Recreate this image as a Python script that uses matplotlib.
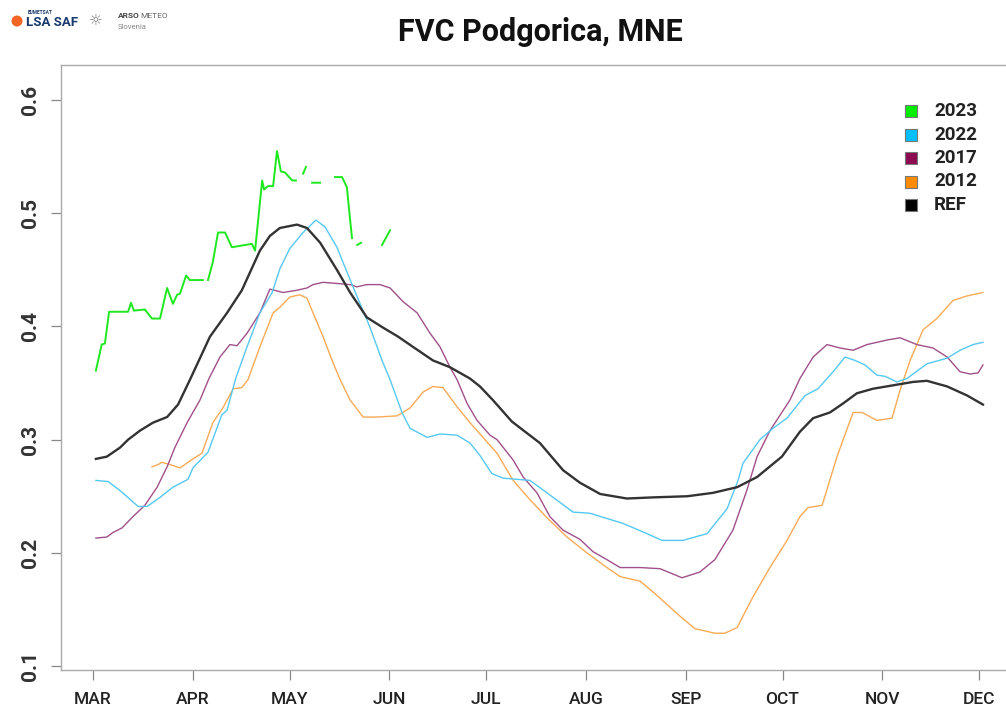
import numpy as np
import matplotlib
matplotlib.use('Agg')
import matplotlib.pyplot as plt
from matplotlib.patches import Ellipse
from matplotlib.transforms import IdentityTransform

nan = np.nan

# ---------------- data ----------------
month_labels = ['MAR', 'APR', 'MAY', 'JUN', 'JUL', 'AUG', 'SEP', 'OCT', 'NOV', 'DEC']
month_days = [60, 91, 121, 152, 182, 213, 244, 274, 305, 335]
y_ticks = [0.1, 0.2, 0.3, 0.4, 0.5, 0.6]
y_tick_labels = ['0.1', '0.2', '0.3', '0.4', '0.5', '0.6']

series_names = ['2023', '2022', '2017', '2012', 'REF']

ref_day = [60.9, 64.3, 68.4, 70.9, 74.6, 78.6, 83.0, 86.4, 90.1, 96.3, 101.6, 106.2,
           111.8, 114.9, 118.0, 123.3, 126.4, 130.5, 135.7, 139.8, 145.0, 150.0, 154.7,
           159.3, 165.5, 170.8, 177.0, 180.1, 184.1, 190.0, 198.7, 205.9, 211.1, 217.4,
           225.7, 233.8, 244.4, 252.4, 259.9, 266.1, 273.8, 279.4, 283.5, 288.7, 292.8,
           297.1, 302.1, 308.3, 314.5, 318.8, 325.1, 331.3, 336.2]
ref_val = [0.283, 0.285, 0.293, 0.300, 0.308, 0.315, 0.320, 0.331, 0.353, 0.391, 0.412, 0.432,
           0.467, 0.480, 0.487, 0.490, 0.487, 0.474, 0.450, 0.430, 0.408, 0.399, 0.391,
           0.382, 0.370, 0.364, 0.354, 0.347, 0.335, 0.316, 0.297, 0.273, 0.262, 0.252,
           0.248, 0.249, 0.250, 0.253, 0.258, 0.267, 0.285, 0.307, 0.319, 0.324, 0.332,
           0.341, 0.345, 0.348, 0.351, 0.352, 0.347, 0.339, 0.331]

y2022_day = [60.9, 64.7, 68.4, 74.0, 76.8, 80.8, 84.8, 89.5, 91.0, 95.7, 100.0, 101.6,
             104.4, 107.8, 111.8, 115.6, 118.0, 121.1, 125.2, 129.2, 132.0, 135.7, 140.7,
             146.0, 149.7, 152.2, 155.9, 158.4, 163.7, 167.7, 173.0, 177.0, 180.1, 183.8,
             187.3, 195.6, 200.9, 209.0, 214.2, 224.5, 231.9, 236.6, 243.1, 250.6, 256.8,
             260.2, 261.7, 267.0, 271.0, 275.4, 281.0, 285.0, 289.7, 293.4, 296.5, 299.6,
             303.3, 305.8, 309.5, 312.6, 318.8, 325.1, 329.1, 333.1, 336.2]
y2022_val = [0.264, 0.263, 0.255, 0.241, 0.241, 0.249, 0.258, 0.265, 0.275, 0.289, 0.322, 0.326,
             0.355, 0.382, 0.412, 0.430, 0.451, 0.469, 0.483, 0.494, 0.488, 0.470, 0.435,
             0.399, 0.370, 0.353, 0.324, 0.310, 0.302, 0.305, 0.304, 0.297, 0.286, 0.270,
             0.266, 0.264, 0.253, 0.236, 0.235, 0.226, 0.217, 0.211, 0.211, 0.217, 0.239,
             0.264, 0.279, 0.300, 0.310, 0.319, 0.339, 0.345, 0.360, 0.373, 0.370, 0.366,
             0.357, 0.356, 0.351, 0.354, 0.367, 0.372, 0.379, 0.384, 0.386]

y2017_day = [60.9, 64.3, 66.2, 69.0, 72.4, 76.1, 79.9, 83.0, 85.4, 89.2, 93.2, 96.0, 99.4,
             102.5, 104.7, 107.8, 111.8, 114.9, 119.0, 123.3, 126.4, 128.3, 131.4, 135.7,
             139.8, 141.9, 145.0, 149.1, 152.2, 156.2, 160.6, 164.6, 167.7, 170.8, 173.0,
             176.1, 179.2, 183.2, 185.4, 190.4, 193.5, 197.8, 201.8, 205.9, 211.1, 215.2,
             219.5, 223.6, 229.8, 236.0, 242.8, 248.3, 253.0, 258.6, 262.9, 266.1, 270.1,
             276.3, 279.4, 283.5, 287.8, 291.8, 295.9, 300.2, 306.4, 310.5, 315.7, 320.7,
             325.1, 329.1, 332.2, 334.7, 336.2]
y2017_val = [0.213, 0.214, 0.218, 0.222, 0.232, 0.242, 0.258, 0.276, 0.293, 0.315, 0.335, 0.354, 0.373,
             0.384, 0.383, 0.394, 0.412, 0.433, 0.430, 0.432, 0.434, 0.437, 0.439, 0.438,
             0.437, 0.435, 0.437, 0.437, 0.434, 0.422, 0.412, 0.394, 0.382, 0.364, 0.353,
             0.332, 0.317, 0.304, 0.300, 0.282, 0.267, 0.253, 0.232, 0.220, 0.212, 0.201,
             0.194, 0.187, 0.187, 0.186, 0.178, 0.183, 0.194, 0.220, 0.255, 0.285, 0.308,
             0.335, 0.354, 0.373, 0.384, 0.381, 0.379, 0.384, 0.388, 0.390, 0.384, 0.381,
             0.373, 0.360, 0.358, 0.359, 0.366]

y2012_day = [78.3, 80.2, 81.4, 83.9, 87.0, 91.0, 93.8, 97.2, 100.3, 103.5, 106.2, 108.1,
             111.8, 115.9, 118.0, 121.1, 124.2, 126.4, 128.3, 131.4, 134.5, 136.7, 139.8,
             143.8, 148.1, 154.4, 158.4, 162.4, 165.5, 168.6, 173.0, 177.0, 180.1, 185.4,
             190.4, 195.6, 200.9, 207.1, 213.3, 219.5, 223.6, 229.8, 234.4, 242.2, 246.8,
             253.0, 256.1, 259.9, 264.8, 270.1, 275.4, 279.4, 281.9, 286.3, 290.9, 295.9,
             298.7, 303.3, 308.0, 310.5, 313.6, 317.6, 321.9, 326.9, 331.3, 336.2]
y2012_val = [0.276, 0.278, 0.280, 0.278, 0.275, 0.283, 0.288, 0.315, 0.328, 0.345, 0.346, 0.353,
             0.382, 0.412, 0.417, 0.426, 0.428, 0.425, 0.412, 0.391, 0.368, 0.353, 0.335,
             0.320, 0.320, 0.321, 0.328, 0.342, 0.347, 0.346, 0.329, 0.315, 0.305, 0.288,
             0.264, 0.247, 0.231, 0.214, 0.200, 0.187, 0.179, 0.175, 0.164, 0.144, 0.133,
             0.129, 0.129, 0.134, 0.161, 0.187, 0.211, 0.232, 0.240, 0.242, 0.285, 0.324,
             0.324, 0.317, 0.319, 0.344, 0.370, 0.397, 0.407, 0.423, 0.427, 0.430]

y2023_day = [60.9, 62.7, 63.7, 65.0, 70.9, 71.8, 72.7, 76.1, 78.3, 80.8, 83.0, 84.8, 86.1,
             87.0, 88.9, 90.1, 94.1, nan, 95.7, 97.2, 98.8, 101.0, 103.1, 109.3, 110.3,
             112.5, 113.1, 114.3, 115.9, 117.1, 118.3, 119.6, 121.8, 123.0, nan, 125.2,
             126.1, nan, 128.0, 130.5, nan, 135.1, 137.3, 138.8, 139.8, 140.4, nan, 142.0,
             143.2, nan, 149.7, 152.2]
y2023_val = [0.361, 0.384, 0.385, 0.413, 0.413, 0.421, 0.414, 0.415, 0.407, 0.407, 0.434, 0.420, 0.428,
             0.429, 0.445, 0.441, 0.441, nan, 0.441, 0.457, 0.483, 0.483, 0.470, 0.473, 0.467,
             0.529, 0.521, 0.524, 0.524, 0.555, 0.537, 0.536, 0.529, 0.529, nan, 0.535,
             0.541, nan, 0.527, 0.527, nan, 0.532, 0.532, 0.523, 0.494, 0.478, nan, 0.472,
             0.474, nan, 0.472, 0.485]

# ---------------- styles ----------------
swatch_colors = ['#00ee00', '#00bfff', '#8b0a50', '#ff8c00', '#000000']
line_colors = ['#1ee81e', '#55c8f2', '#a0508a', '#f8aa55', '#333333']

W, H = 1006, 710
fig = plt.figure(figsize=(W / 100, H / 100), dpi=100)
plt.rcParams['font.family'] = ['Roboto', 'DejaVu Sans']

ax_l, ax_r, ax_t, ax_b = 61, 1010, 65, 670
ax = fig.add_axes([ax_l / W, 1 - ax_b / H, (ax_r - ax_l) / W, (ax_b - ax_t) / H])

ax.plot(y2012_day, y2012_val, color=line_colors[3], lw=1.0, zorder=2)
ax.plot(y2017_day, y2017_val, color=line_colors[2], lw=1.0, zorder=3)
ax.plot(y2022_day, y2022_val, color=line_colors[1], lw=1.0, zorder=4)
ax.plot(ref_day, ref_val, color=line_colors[4], lw=1.7, zorder=5)
ax.plot(y2023_day, y2023_val, color=line_colors[0], lw=1.4, zorder=6)

ax.set_xlim(50.07, 344.6)
ax.set_ylim(0.0965, 0.631)

ax.set_xticks(month_days)
ax.set_xticklabels(month_labels)
ax.set_yticks(y_ticks)
ax.set_yticklabels(y_tick_labels)

for s in ax.spines.values():
    s.set_color('#aaaaaa')
    s.set_linewidth(1.0)

ax.tick_params(axis='x', length=7, width=0.9, color='#888888', pad=9,
               labelsize=12.5, labelcolor='#222222')
ax.tick_params(axis='y', length=7, width=0.9, color='#888888', pad=8,
               labelsize=15, labelcolor='#333333', labelrotation=90)
for lbl in ax.get_xticklabels():
    lbl.set_fontweight('medium')
for lbl in ax.get_yticklabels():
    lbl.set_va('center')
    lbl.set_fontweight('bold')

# legend (manual, top right)
leg_rows_px = [111, 134.5, 158, 181.5, 205]
for name, col, ypx in zip(series_names, swatch_colors, leg_rows_px):
    ya = 1 - (ypx - ax_t) / (ax_b - ax_t)
    ax.plot([(911 - ax_l) / (ax_r - ax_l)], [ya], marker='s', markersize=8.5,
            markerfacecolor=col, markeredgecolor='#777777', markeredgewidth=0.8,
            transform=ax.transAxes, clip_on=False, zorder=10)
    ax.text((934 - ax_l) / (ax_r - ax_l), ya, name, transform=ax.transAxes,
            fontsize=13.5, fontweight='bold', color='#222222', va='center', ha='left')

# title
fig.text(0.537, 1 - 32 / H, 'FVC Podgorica, MNE', ha='center', va='center',
         fontsize=22, fontweight='bold', color='#111111')

# logos (as text)
fig.add_artist(Ellipse((17, H - 21), 11, 11, transform=IdentityTransform(),
                       facecolor='#f26522', edgecolor='none'))
fig.text(28 / W, 1 - 12 / H, 'EUMETSAT', fontsize=3.5, color='#1a3a6e',
         fontweight='bold', va='center', ha='left')
fig.text(26 / W, 1 - 22 / H, 'LSA SAF', fontsize=9.5, color='#1a3a6e',
         fontweight='bold', va='center', ha='left')
fig.text(96 / W, 1 - 21 / H, '\u263c', fontsize=11, color='#777777',
         va='center', ha='center', family='DejaVu Sans')
fig.text(118 / W, 1 - 16 / H, 'ARSO', fontsize=6, color='#444444',
         fontweight='bold', va='center', ha='left')
fig.text(140 / W, 1 - 16 / H, 'METEO', fontsize=6, color='#666666',
         va='center', ha='left')
fig.text(118 / W, 1 - 27 / H, 'Slovenia', fontsize=5.5, color='#888888',
         va='center', ha='left')

fig.savefig('out.png', dpi=100)
